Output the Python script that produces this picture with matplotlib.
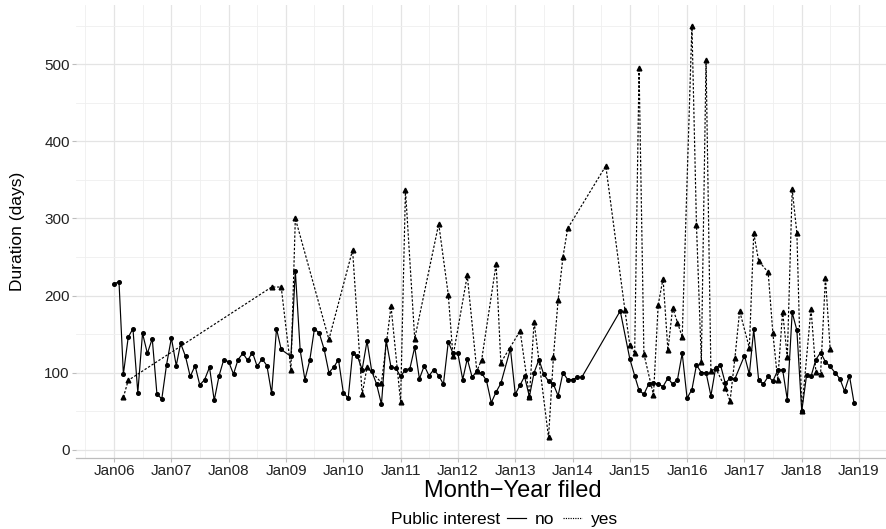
import matplotlib
matplotlib.use('Agg')
import matplotlib.pyplot as plt
import matplotlib.dates as mdates
from matplotlib.lines import Line2D
import pandas as pd

# durée des dossiers par mois de dépôt
no_month = [0, 1, 2, 3, 4, 5, 6, 7, 8, 9, 10, 11, 12, 13, 14, 15, 16, 17, 18, 19,
            20, 21, 22, 23, 24, 25, 26, 27, 28, 29, 30, 31, 32, 33, 34, 35, 37, 38, 39, 40,
            41, 42, 43, 44, 45, 46, 47, 48, 49, 50, 51, 52, 53, 54, 55, 56, 57, 58, 59, 60,
            61, 62, 63, 64, 65, 66, 67, 68, 69, 70, 71, 72, 73, 74, 75, 76, 77, 78, 79, 80,
            81, 83, 84, 85, 86, 87, 88, 89, 90, 91, 92, 93, 94, 95, 96, 97, 98, 106, 108, 109,
            110, 111, 112, 113, 114, 115, 116, 117, 118, 119, 120, 121, 122, 123, 124, 125, 126, 127, 128, 129,
            130, 132, 133, 134, 135, 136, 137, 138, 139, 140, 141, 142, 143, 144, 145, 146, 147, 148, 149, 150,
            151, 152, 153, 154, 155]
no_days = [215, 218, 98, 146, 157, 74, 151, 125, 144, 72, 66, 110, 145, 109, 138, 121, 95, 109, 84, 91,
           107, 64, 96, 117, 114, 98, 117, 125, 116, 126, 108, 118, 109, 73, 157, 130, 121, 232, 129, 91,
           116, 157, 151, 130, 100, 107, 117, 74, 67, 125, 121, 104, 141, 102, 85, 59, 142, 107, 106, 95,
           104, 105, 133, 92, 109, 96, 104, 96, 85, 140, 125, 125, 91, 118, 94, 102, 99, 90, 61, 75,
           86, 131, 72, 84, 95, 69, 100, 117, 98, 89, 85, 70, 100, 91, 91, 94, 94, 180, 118, 96,
           77, 72, 85, 87, 85, 82, 93, 85, 91, 125, 67, 78, 110, 100, 100, 70, 106, 110, 86, 93,
           92, 122, 98, 156, 91, 85, 95, 89, 103, 104, 65, 178, 155, 50, 97, 95, 117, 126, 114, 108,
           100, 92, 76, 96, 60]

yes_month = [2, 3, 33, 35, 37, 38, 45, 50, 52, 53, 56, 58, 60, 61, 63, 68, 70, 71, 74, 76,
             77, 80, 81, 85, 87, 88, 91, 92, 93, 94, 95, 103, 107, 108, 109, 110, 111, 113, 114, 115,
             116, 117, 118, 119, 121, 122, 123, 124, 125, 126, 128, 129, 130, 131, 133, 134, 135, 137, 138, 139,
             140, 141, 142, 143, 144, 146, 147, 148, 149, 150]
yes_days = [68, 90, 211, 211, 104, 300, 143, 259, 72, 107, 87, 186, 62, 337, 144, 293, 201, 121, 226, 102,
            117, 241, 113, 154, 69, 166, 16, 120, 194, 250, 287, 368, 181, 136, 125, 495, 124, 71, 188, 222,
            129, 184, 165, 146, 550, 291, 114, 505, 102, 106, 80, 63, 119, 180, 132, 281, 245, 230, 151, 90,
            179, 120, 338, 281, 50, 183, 101, 98, 223, 131]

months = pd.date_range('2006-01-01', periods=160, freq='MS')
no_dates = months[no_month]
yes_dates = months[yes_month]

plt.rcParams['font.family'] = ['Liberation Sans', 'DejaVu Sans']

fig = plt.figure(figsize=(8.86, 5.29), dpi=100)
# le panneau déborde à droite : l'image de référence est rognée
ax = fig.add_axes([76 / 886, 1 - 458 / 529, 874 / 886, 453 / 529])

ax.plot(no_dates, no_days, color='black', lw=0.85, marker='o', ms=2.6)
ax.plot(yes_dates, yes_days, color='black', lw=0.85, ls=(0, (2, 1.5)), marker='^', ms=3.4)

ax.set_xlim(pd.Timestamp('2005-05-03'), pd.Timestamp('2020-08-03'))
ax.set_ylim(-10.7, 576.7)
ax.set_yticks([0, 100, 200, 300, 400, 500])
ax.set_yticks([50, 150, 250, 350, 450, 550], minor=True)
ax.set_xticks(pd.date_range('2006-01-01', '2019-01-01', freq='YS'))
ax.set_xticks(pd.date_range('2005-07-01', '2020-07-01', freq='12MS'), minor=True)
ax.xaxis.set_major_formatter(mdates.DateFormatter('Jan%y'))

ax.grid(which='major', color='#E4E4E4', lw=0.9)
ax.grid(which='minor', color='#EFEFEF', lw=0.6)
ax.set_axisbelow(True)
for s in ['top', 'right', 'left']:
    ax.spines[s].set_visible(False)
ax.spines['bottom'].set_color('#BDBDBD')
ax.spines['bottom'].set_linewidth(0.9)
ax.tick_params(which='major', length=3, color='#BDBDBD', labelsize=11, labelcolor='#222222', pad=1.5)
ax.tick_params(which='minor', length=0)

fig.text(18 / 886, 1 - 231 / 529, 'Duration (days)', rotation=90, ha='center', va='center', fontsize=12.5)
fig.text(513 / 886, 1 - 491 / 529, 'Month\u2212Year filed', ha='center', va='center', fontsize=17)

fig.text(500 / 886, 1 - 519 / 529, 'Public interest', ha='right', va='center', fontsize=12.5)
handles = [Line2D([], [], color='black', lw=0.85),
           Line2D([], [], color='black', lw=0.85, ls=(0, (1, 1)))]
fig.legend(handles, ['no', 'yes'], ncol=2, loc='center left', bbox_to_anchor=(507 / 886, 1 - 519 / 529),
           frameon=False, fontsize=12.5, handlelength=1.1, handletextpad=0.5, columnspacing=0.5,
           borderpad=0, borderaxespad=0)

fig.savefig('out.png', dpi=100)
